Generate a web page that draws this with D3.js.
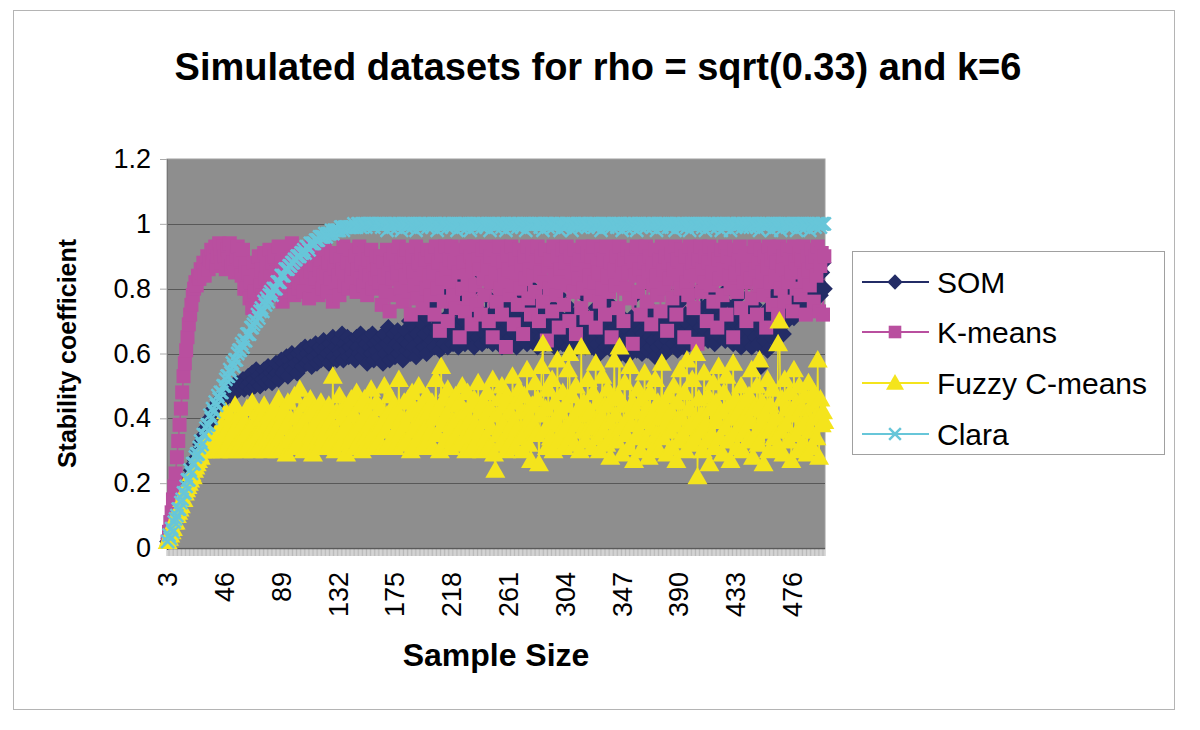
<!DOCTYPE html>
<html>
<head>
<meta charset="utf-8">
<script src="https://cdn.jsdelivr.net/npm/d3@7"></script>
<style>
  body { margin: 0; background: #fff; }
  text { font-family: "Liberation Sans", Arial, sans-serif; }
</style>
</head>
<body>
<script>
// categories: every sample size from 3 to 500
var sampleSizes = d3.range(3, 501);
var xTickLabels = [3, 46, 89, 132, 175, 218, 261, 304, 347, 390, 433, 476];
var yTicks = [0, 0.2, 0.4, 0.6, 0.8, 1, 1.2];
var seriesNames = ["SOM", "K-means", "Fuzzy C-means", "Clara"];

var somValues = [
  .02,.03,.04,.05,.07,.07,.09,.10,.11,.13,.13,.15,.16,.17,.19,.19,.21,.22,.24,.24,
  .26,.27,.28,.30,.30,.32,.33,.34,.35,.37,.37,.38,.40,.40,.41,.43,.42,.44,.45,.44,
  .46,.45,.47,.46,.48,.47,.49,.48,.47,.50,.49,.48,.51,.50,.49,.51,.50,.52,.49,.51,
  .50,.53,.51,.49,.54,.52,.50,.55,.51,.53,.50,.54,.52,.55,.51,.53,.56,.52,.54,.51,
  .55,.53,.57,.54,.52,.56,.58,.54,.57,.55,.59,.53,.58,.56,.60,.55,.59,.57,.54,.60,
  .58,.61,.56,.59,.62,.57,.60,.58,.62,.56,.61,.59,.63,.57,.60,.62,.58,.61,.64,.59,
  .62,.60,.57,.63,.61,.65,.59,.62,.58,.64,.61,.60,.66,.58,.63,.61,.65,.59,.62,.64,
  .60,.63,.58,.65,.62,.60,.66,.59,.64,.61,.63,.57,.65,.62,.60,.66,.58,.63,.61,.64,
  .59,.65,.62,.57,.66,.60,.63,.68,.58,.64,.61,.66,.59,.63,.67,.60,.62,.65,.58,.64,
  .67,.61,.63,.70,.60,.65,.62,.68,.59,.66,.72,.61,.64,.69,.62,.66,.60,.71,.63,.67,
  .64,.75,.62,.68,.66,.78,.61,.70,.65,.63,.80,.67,.62,.72,.66,.76,.63,.69,.65,.74,
  .62,.68,.82,.65,.70,.63,.77,.67,.64,.72,.66,.80,.62,.69,.74,.65,.85,.68,.63,.71,
  .66,.78,.64,.70,.82,.67,.63,.73,.86,.68,.65,.75,.70,.62,.80,.67,.72,.64,.69,.76,
  .65,.71,.83,.66,.62,.74,.68,.79,.64,.70,.67,.76,.63,.72,.81,.66,.69,.64,.75,.68,
  .62,.70,.77,.65,.68,.73,.63,.80,.67,.71,.64,.69,.74,.62,.66,.72,.78,.65,.68,.63,
  .70,.66,.75,.62,.68,.64,.72,.67,.61,.70,.65,.73,.63,.69,.66,.78,.62,.68,.71,.64,
  .67,.62,.70,.65,.74,.63,.68,.60,.71,.66,.64,.69,.62,.76,.65,.67,.61,.70,.64,.68,
  .62,.66,.72,.60,.68,.64,.70,.63,.59,.67,.65,.71,.62,.66,.78,.61,.69,.64,.67,.60,
  .66,.63,.70,.61,.68,.65,.62,.73,.64,.59,.67,.62,.70,.65,.63,.68,.60,.66,.64,.71,
  .62,.67,.74,.63,.65,.70,.61,.68,.76,.64,.66,.62,.72,.65,.69,.63,.78,.67,.64,.70,
  .66,.73,.63,.68,.80,.65,.70,.67,.75,.64,.69,.72,.66,.78,.63,.70,.68,.74,.65,.71,
  .67,.76,.64,.70,.80,.66,.72,.68,.63,.75,.69,.65,.71,.78,.62,.68,.73,.66,.70,.64,
  .72,.67,.62,.69,.75,.65,.70,.63,.68,.56,.66,.71,.64,.69,.61,.74,.67,.65,.72,.78,
  .70,.75,.68,.80,.72,.77,.66,.74,.82,.70,.76,.85,.73,.79,.71,.88,.75,.80,.84,.77,
  .82,.78,.86,.80,.74,.88,.81,.77,.90,.83,.79,.86,.82,.92,.78,.85,.88,.80
];

var kmeansValues = [
  .02,.05,.08,.11,.15,.19,.23,.28,.33,.38,.43,.48,.53,.57,.61,.65,.69,.72,.75,.78,
  .80,.82,.81,.84,.83,.86,.85,.88,.84,.87,.90,.86,.89,.92,.88,.91,.93,.87,.90,.94,
  .91,.88,.93,.90,.86,.92,.89,.94,.87,.91,.88,.85,.90,.93,.86,.89,.84,.92,.80,.87,
  .80,.85,.77,.82,.74,.88,.79,.84,.76,.90,.81,.86,.78,.91,.83,.87,.80,.92,.85,.88,
  .80,.90,.85,.78,.93,.82,.88,.76,.91,.84,.79,.89,.86,.81,.94,.83,.78,.90,.85,.80,
  .88,.82,.92,.79,.86,.84,.90,.77,.85,.93,.81,.87,.83,.91,.78,.86,.89,.80,.84,.92,
  .85,.79,.88,.83,.91,.76,.87,.82,.90,.84,.78,.89,.86,.93,.81,.85,.88,.80,.92,.84,
  .87,.82,.90,.79,.86,.93,.83,.88,.81,.91,.85,.78,.89,.84,.92,.80,.87,.83,.90,.86,
  .82,.90,.75,.88,.84,.79,.92,.86,.73,.89,.83,.91,.78,.87,.85,.93,.80,.88,.76,.90,
  .84,.92,.79,.87,.72,.90,.85,.81,.93,.77,.88,.83,.91,.74,.86,.89,.80,.92,.84,.78,
  .90,.85,.72,.93,.80,.88,.67,.91,.83,.76,.93,.86,.70,.89,.82,.93,.78,.88,.74,.91,
  .85,.65,.92,.80,.88,.73,.93,.84,.77,.90,.69,.87,.93,.81,.75,.89,.86,.72,.92,.83,
  .78,.93,.87,.70,.90,.82,.65,.92,.85,.76,.89,.93,.80,.72,.88,.84,.62,.91,.86,.78,
  .93,.81,.69,.89,.85,.75,.92,.80,.87,.66,.90,.83,.93,.77,.86,.72,.91,.84,.79,.88,
  .93,.70,.85,.90,.76,.82,.92,.64,.87,.80,.89,.73,.93,.84,.78,.90,.68,.86,.82,.92,
  .75,.88,.93,.81,.70,.90,.85,.79,.92,.66,.87,.83,.89,.74,.93,.80,.86,.71,.91,.84,
  .78,.90,.93,.82,.68,.87,.85,.76,.92,.80,.89,.72,.93,.84,.79,.88,.65,.91,.86,.81,
  .90,.74,.93,.83,.87,.70,.89,.80,.92,.85,.77,.90,.63,.88,.84,.93,.79,.86,.72,.91,
  .82,.88,.93,.76,.85,.90,.69,.87,.81,.92,.84,.78,.89,.73,.93,.86,.80,.90,.67,.88,
  .83,.91,.77,.86,.93,.72,.89,.84,.80,.92,.87,.65,.90,.82,.78,.93,.85,.88,.74,.91,
  .84,.63,.89,.93,.79,.86,.82,.90,.70,.88,.93,.81,.85,.76,.91,.87,.68,.89,.83,.92,
  .78,.86,.93,.72,.90,.84,.80,.88,.65,.92,.85,.79,.89,.93,.74,.87,.82,.90,.70,.86,
  .91,.83,.77,.89,.93,.86,.72,.88,.81,.92,.85,.78,.90,.68,.87,.93,.82,.89,.75,.91,
  .84,.88,.72,.93,.80,.87,.90,.76,.86,.92,.82,.89,.85,.73,.93,.88,.80,.86,.91,.78,
  .89,.93,.84,.72,.90,.86,.81,.92,.88,.76,.90,.84,.93,.73,.87,.91,.72,.90
];

var fuzzyValues = [
  .02,.03,.04,.05,.06,.08,.08,.10,.11,.12,.13,.15,.15,.17,.18,.19,.20,.21,.23,.22,
  .24,.25,.26,.27,.29,.28,.30,.31,.30,.32,.31,.33,.30,.34,.32,.31,.35,.33,.30,.36,
  .32,.38,.30,.35,.42,.31,.37,.33,.40,.30,.36,.44,.32,.38,.31,.41,.34,.30,.39,.35,
  .43,.31,.37,.33,.45,.30,.39,.35,.42,.31,.36,.40,.33,.44,.30,.38,.34,.41,.31,.37,
  .32,.43,.36,.30,.46,.34,.39,.31,.42,.37,.29,.45,.33,.40,.35,.31,.47,.36,.32,.41,
  .49,.34,.38,.30,.44,.36,.41,.32,.46,.35,.29,.43,.38,.33,.40,.31,.45,.37,.34,.42,
  .36,.31,.44,.39,.33,.53,.37,.30,.42,.35,.47,.32,.40,.36,.44,.29,.38,.43,.33,.46,
  .35,.41,.31,.48,.37,.33,.44,.30,.39,.46,.34,.42,.31,.38,.49,.35,.40,.32,.45,.37,
  .33,.43,.38,.31,.50,.36,.41,.32,.47,.39,.34,.44,.31,.42,.37,.52,.35,.40,.32,.45,
  .38,.33,.46,.41,.30,.48,.36,.43,.32,.39,.50,.35,.44,.31,.41,.37,.47,.33,.42,.36,
  .45,.31,.40,.52,.35,.43,.30,.56,.38,.46,.33,.41,.49,.36,.31,.44,.39,.34,.47,.40,
  .32,.45,.37,.50,.34,.42,.30,.48,.39,.35,.44,.31,.46,.38,.33,.51,.36,.42,.30,.45,
  .39,.34,.48,.31,.43,.37,.52,.29,.24,.41,.35,.46,.32,.50,.38,.44,.30,.47,.36,.42,
  .33,.53,.39,.31,.45,.37,.49,.34,.42,.30,.47,.36,.55,.32,.40,.27,.44,.38,.51,.35,
  .46,.26,.41,.56,.63,.36,.43,.31,.49,.38,.34,.52,.30,.45,.39,.58,.33,.42,.36,.48,
  .31,.44,.37,.55,.60,.34,.47,.40,.32,.50,.38,.43,.30,.62,.36,.45,.33,.41,.52,.37,
  .42,.31,.48,.38,.57,.34,.45,.30,.40,.53,.36,.44,.32,.49,.39,.28,.46,.35,.58,.41,
  .33,.47,.62,.37,.29,.44,.51,.35,.40,.31,.56,.38,.45,.27,.42,.34,.49,.36,.30,.46,
  .39,.54,.33,.43,.28,.48,.37,.41,.31,.52,.35,.45,.30,.40,.57,.34,.44,.38,.29,.47,
  .36,.42,.31,.50,.38,.27,.45,.33,.55,.40,.35,.48,.30,.58,.37,.43,.32,.52,.39,.34,
  .60,.22,.46,.36,.41,.30,.54,.38,.33,.47,.26,.43,.35,.51,.31,.45,.39,.56,.34,.42,
  .29,.48,.37,.53,.33,.44,.27,.40,.57,.35,.46,.31,.42,.38,.50,.30,.45,.36,.41,.33,
  .47,.39,.55,.28,.43,.35,.50,.32,.58,.38,.45,.26,.41,.36,.52,.30,.44,.37,.49,.34,
  .40,.31,.63,.70,.36,.46,.29,.52,.38,.43,.33,.48,.27,.41,.55,.35,.45,.30,.50,.37,
  .43,.32,.47,.39,.29,.51,.36,.44,.31,.48,.40,.34,.58,.28,.46,.38,.42,.39
];

var claraValues = [
  .02,.04,.03,.06,.05,.08,.09,.10,.12,.12,.14,.15,.17,.17,.19,.21,.21,.24,.23,.26,
  .26,.28,.29,.29,.31,.33,.32,.35,.35,.37,.38,.38,.41,.40,.43,.42,.45,.44,.47,.46,
  .48,.48,.50,.50,.52,.53,.53,.55,.54,.57,.56,.58,.58,.60,.61,.61,.63,.62,.64,.64,
  .66,.66,.66,.68,.68,.69,.70,.70,.72,.71,.73,.74,.73,.76,.75,.77,.76,.78,.79,.78,
  .80,.80,.80,.82,.82,.82,.84,.84,.84,.86,.86,.86,.87,.87,.88,.88,.89,.89,.90,.90,
  .90,.91,.91,.92,.91,.93,.93,.92,.94,.94,.94,.94,.95,.95,.95,.96,.96,.96,.96,.97,
  .96,.97,.97,.97,.98,.97,.98,.98,.98,.98,.98,.99,.99,.98,.99,.99,.99,.99,.99,.99,
  .99,1,.99,.99,1,1,.99,1,1,1,.99,1,1,1,1,1,.99,1,1,1,
  1,1,.99,1,1,1,.98,1,1,.99,1,1,1,1,.99,1,1,.98,1,1,
  1,.99,1,1,1,.99,1,1,.98,1,1,1,.99,1,1,1,1,.99,1,1,
  .99,1,1,1,.98,1,1,.99,1,1,1,1,.99,1,1,.99,1,1,1,.98,
  1,1,.99,1,1,1,1,.99,1,.98,1,1,1,.99,1,1,1,1,.99,1,
  1,.99,1,1,.98,1,1,1,.99,1,1,1,1,.99,1,1,.98,1,1,1,
  .99,1,1,1,1,.99,1,1,.99,1,1,.98,1,1,1,.99,1,1,1,1,
  1,1,.99,1,.98,1,1,1,.99,1,1,1,.99,1,1,1,1,.98,1,.99,
  1,.99,1,1,1,1,.98,1,1,.99,1,1,1,.99,1,1,1,1,.99,1,
  1,1,1,.99,1,1,.99,1,.98,1,1,1,1,.99,1,1,.99,1,1,1,
  .99,1,1,1,.98,1,1,.99,1,1,1,1,.99,1,1,.98,1,1,.99,1,
  1,1,.99,1,1,1,1,.99,1,1,.98,1,1,1,.99,1,1,1,1,.99,
  1,.99,1,1,.98,1,1,1,1,.99,1,1,1,.99,1,.98,1,1,1,1,
  .99,1,1,1,1,.99,1,.98,1,1,1,.99,1,1,1,1,.99,1,1,.98,
  1,1,.99,1,1,1,.98,1,1,1,.99,1,1,1,1,.99,1,1,.99,1,
  1,.99,1,1,1,1,.99,1,.98,1,1,1,.99,1,1,1,1,.98,1,1,
  1,1,.99,1,.98,1,1,1,1,.99,1,1,.99,1,1,1,.98,1,1,.99,
  1,1,1,.99,1,1,.98,1,1,1,.99,1,1,1,.99,1,1,1
];

var allValues = [somValues, kmeansValues, fuzzyValues, claraValues];
var colors = ["#232c66", "#b94f9f", "#f4e41c", "#67c6d9"];

var W = 1200, H = 730;
var plot = {left: 167, right: 825, top: 159, bottom: 548};
var font = '"Liberation Sans", Arial, sans-serif';

var svg = d3.select("body").append("svg")
  .attr("width", W)
  .attr("height", H);

// outer chart border
svg.append("rect")
  .attr("x", 13.5).attr("y", 10.5)
  .attr("width", 1161).attr("height", 699)
  .attr("fill", "#fff")
  .attr("stroke", "#b4b4b4");

var x = d3.scaleBand()
  .domain(sampleSizes)
  .range([plot.left, plot.right]);
var y = d3.scaleLinear()
  .domain([0, 1.2])
  .range([plot.bottom, plot.top]);
function cx(d){ return x(d) + x.bandwidth()/2; }

// plot area
svg.append("rect")
  .attr("x", plot.left).attr("y", plot.top)
  .attr("width", plot.right - plot.left)
  .attr("height", plot.bottom - plot.top)
  .attr("fill", "#8e8e8e")
  .attr("stroke", "#a0a0a0");

// gridlines
svg.append("g")
  .selectAll("line")
  .data(yTicks.filter(function(t){ return t > 0 && t < 1.2; }))
  .enter().append("line")
  .attr("x1", plot.left).attr("x2", plot.right)
  .attr("y1", function(d){ return Math.round(y(d)) + 0.5; })
  .attr("y2", function(d){ return Math.round(y(d)) + 0.5; })
  .attr("stroke", "#585858")
  .attr("stroke-width", 1);

// y axis
var yAxis = svg.append("g")
  .attr("transform", "translate(" + plot.left + ",0)")
  .call(d3.axisLeft(y).tickValues(yTicks).tickSize(7).tickPadding(9)
    .tickFormat(function(d){ return String(d); }));
yAxis.select(".domain").attr("stroke", "#777");
yAxis.selectAll(".tick line").attr("stroke", "#aaa");
yAxis.selectAll("text")
  .attr("font-family", font)
  .attr("font-size", 27)
  .attr("fill", "#000");

// x axis: small tick at every category boundary
var boundaries = sampleSizes.map(function(d){ return x(d); }).concat([plot.right]);
svg.append("g")
  .selectAll("line")
  .data(boundaries)
  .enter().append("line")
  .attr("x1", function(d){ return d; })
  .attr("x2", function(d){ return d; })
  .attr("y1", plot.bottom)
  .attr("y2", plot.bottom + 8)
  .attr("stroke", "#8a8a8a")
  .attr("stroke-width", 0.6);
svg.append("line")
  .attr("x1", plot.left).attr("x2", plot.right)
  .attr("y1", plot.bottom + 0.5).attr("y2", plot.bottom + 0.5)
  .attr("stroke", "#5a5a5a")
  .attr("stroke-width", 1.5);

var xAxis = svg.append("g")
  .attr("transform", "translate(0," + plot.bottom + ")")
  .call(d3.axisBottom(x).tickValues(xTickLabels).tickSize(0));
xAxis.select(".domain").remove();
xAxis.selectAll("text")
  .attr("font-family", font)
  .attr("font-size", 27)
  .attr("fill", "#000")
  .attr("transform", "rotate(-90)")
  .attr("text-anchor", "end")
  .attr("x", -24)
  .attr("y", 0)
  .attr("dy", "0.35em");

// marker shapes
function markerPath(k, s) {
  if (k === 0) return "M0," + (-s) + "L" + s + ",0L0," + s + "L" + (-s) + ",0Z";
  if (k === 1) return "M" + (-s) + "," + (-s) + "H" + s + "V" + s + "H" + (-s) + "Z";
  if (k === 2) return "M0," + (-s) + "L" + s + "," + (s*0.75) + "L" + (-s) + "," + (s*0.75) + "Z";
  return "M" + (-s) + "," + (-s) + "L" + s + "," + s + "M" + (-s) + "," + s + "L" + s + "," + (-s);
}
var markerSize = [8.5, 7, 10, 6.5];

function drawMarker(sel, k, s) {
  sel.attr("d", markerPath(k, s));
  if (k === 3) {
    sel.attr("fill", "none").attr("stroke", colors[k]).attr("stroke-width", 2.5);
  } else {
    sel.attr("fill", colors[k]).attr("stroke", "none");
  }
}

var line = d3.line()
  .x(function(d){ return cx(d.n); })
  .y(function(d){ return y(d.v); });

var seriesData = allValues.map(function(vals){
  return sampleSizes.map(function(n, i){ return {n: n, v: vals[i]}; })
    .filter(function(d){ return d.v !== undefined; });
});

// lines first, then markers, series in order
seriesData.forEach(function(data, k){
  svg.append("path")
    .datum(data)
    .attr("d", line)
    .attr("fill", "none")
    .attr("stroke", colors[k])
    .attr("stroke-width", 1.5);
});
seriesData.forEach(function(data, k){
  svg.append("g")
    .selectAll("path")
    .data(data)
    .enter().append("path")
    .attr("transform", function(d){ return "translate(" + cx(d.n) + "," + y(d.v) + ")"; })
    .each(function(){ drawMarker(d3.select(this), k, markerSize[k]); });
});

// titles
svg.append("text")
  .attr("x", 598).attr("y", 80)
  .attr("text-anchor", "middle")
  .attr("font-family", font)
  .attr("font-weight", "bold")
  .attr("font-size", 38)
  .text("Simulated datasets for rho = sqrt(0.33) and k=6");

svg.append("text")
  .attr("x", (plot.left + plot.right) / 2).attr("y", 666)
  .attr("text-anchor", "middle")
  .attr("font-family", font)
  .attr("font-weight", "bold")
  .attr("font-size", 32)
  .text("Sample Size");

svg.append("text")
  .attr("transform", "translate(76," + (plot.top + plot.bottom) / 2 + ") rotate(-90)")
  .attr("text-anchor", "middle")
  .attr("font-family", font)
  .attr("font-weight", "bold")
  .attr("font-size", 25)
  .text("Stability coefficient");

// legend
var legend = svg.append("g");
legend.append("rect")
  .attr("x", 852.5).attr("y", 251.5)
  .attr("width", 312).attr("height", 203)
  .attr("fill", "#fff")
  .attr("stroke", "#a0a0a0");
var rowY = [282, 332, 383, 434];
seriesNames.forEach(function(name, k){
  legend.append("line")
    .attr("x1", 862).attr("x2", 929)
    .attr("y1", rowY[k]).attr("y2", rowY[k])
    .attr("stroke", colors[k]).attr("stroke-width", 2);
  legend.append("path")
    .attr("transform", "translate(895," + rowY[k] + ")")
    .call(drawMarker, k, markerSize[k] * 0.9);
  legend.append("text")
    .attr("x", 937).attr("y", rowY[k])
    .attr("dy", "0.36em")
    .attr("font-family", font)
    .attr("font-size", 30)
    .text(name);
});
</script>
</body>
</html>
